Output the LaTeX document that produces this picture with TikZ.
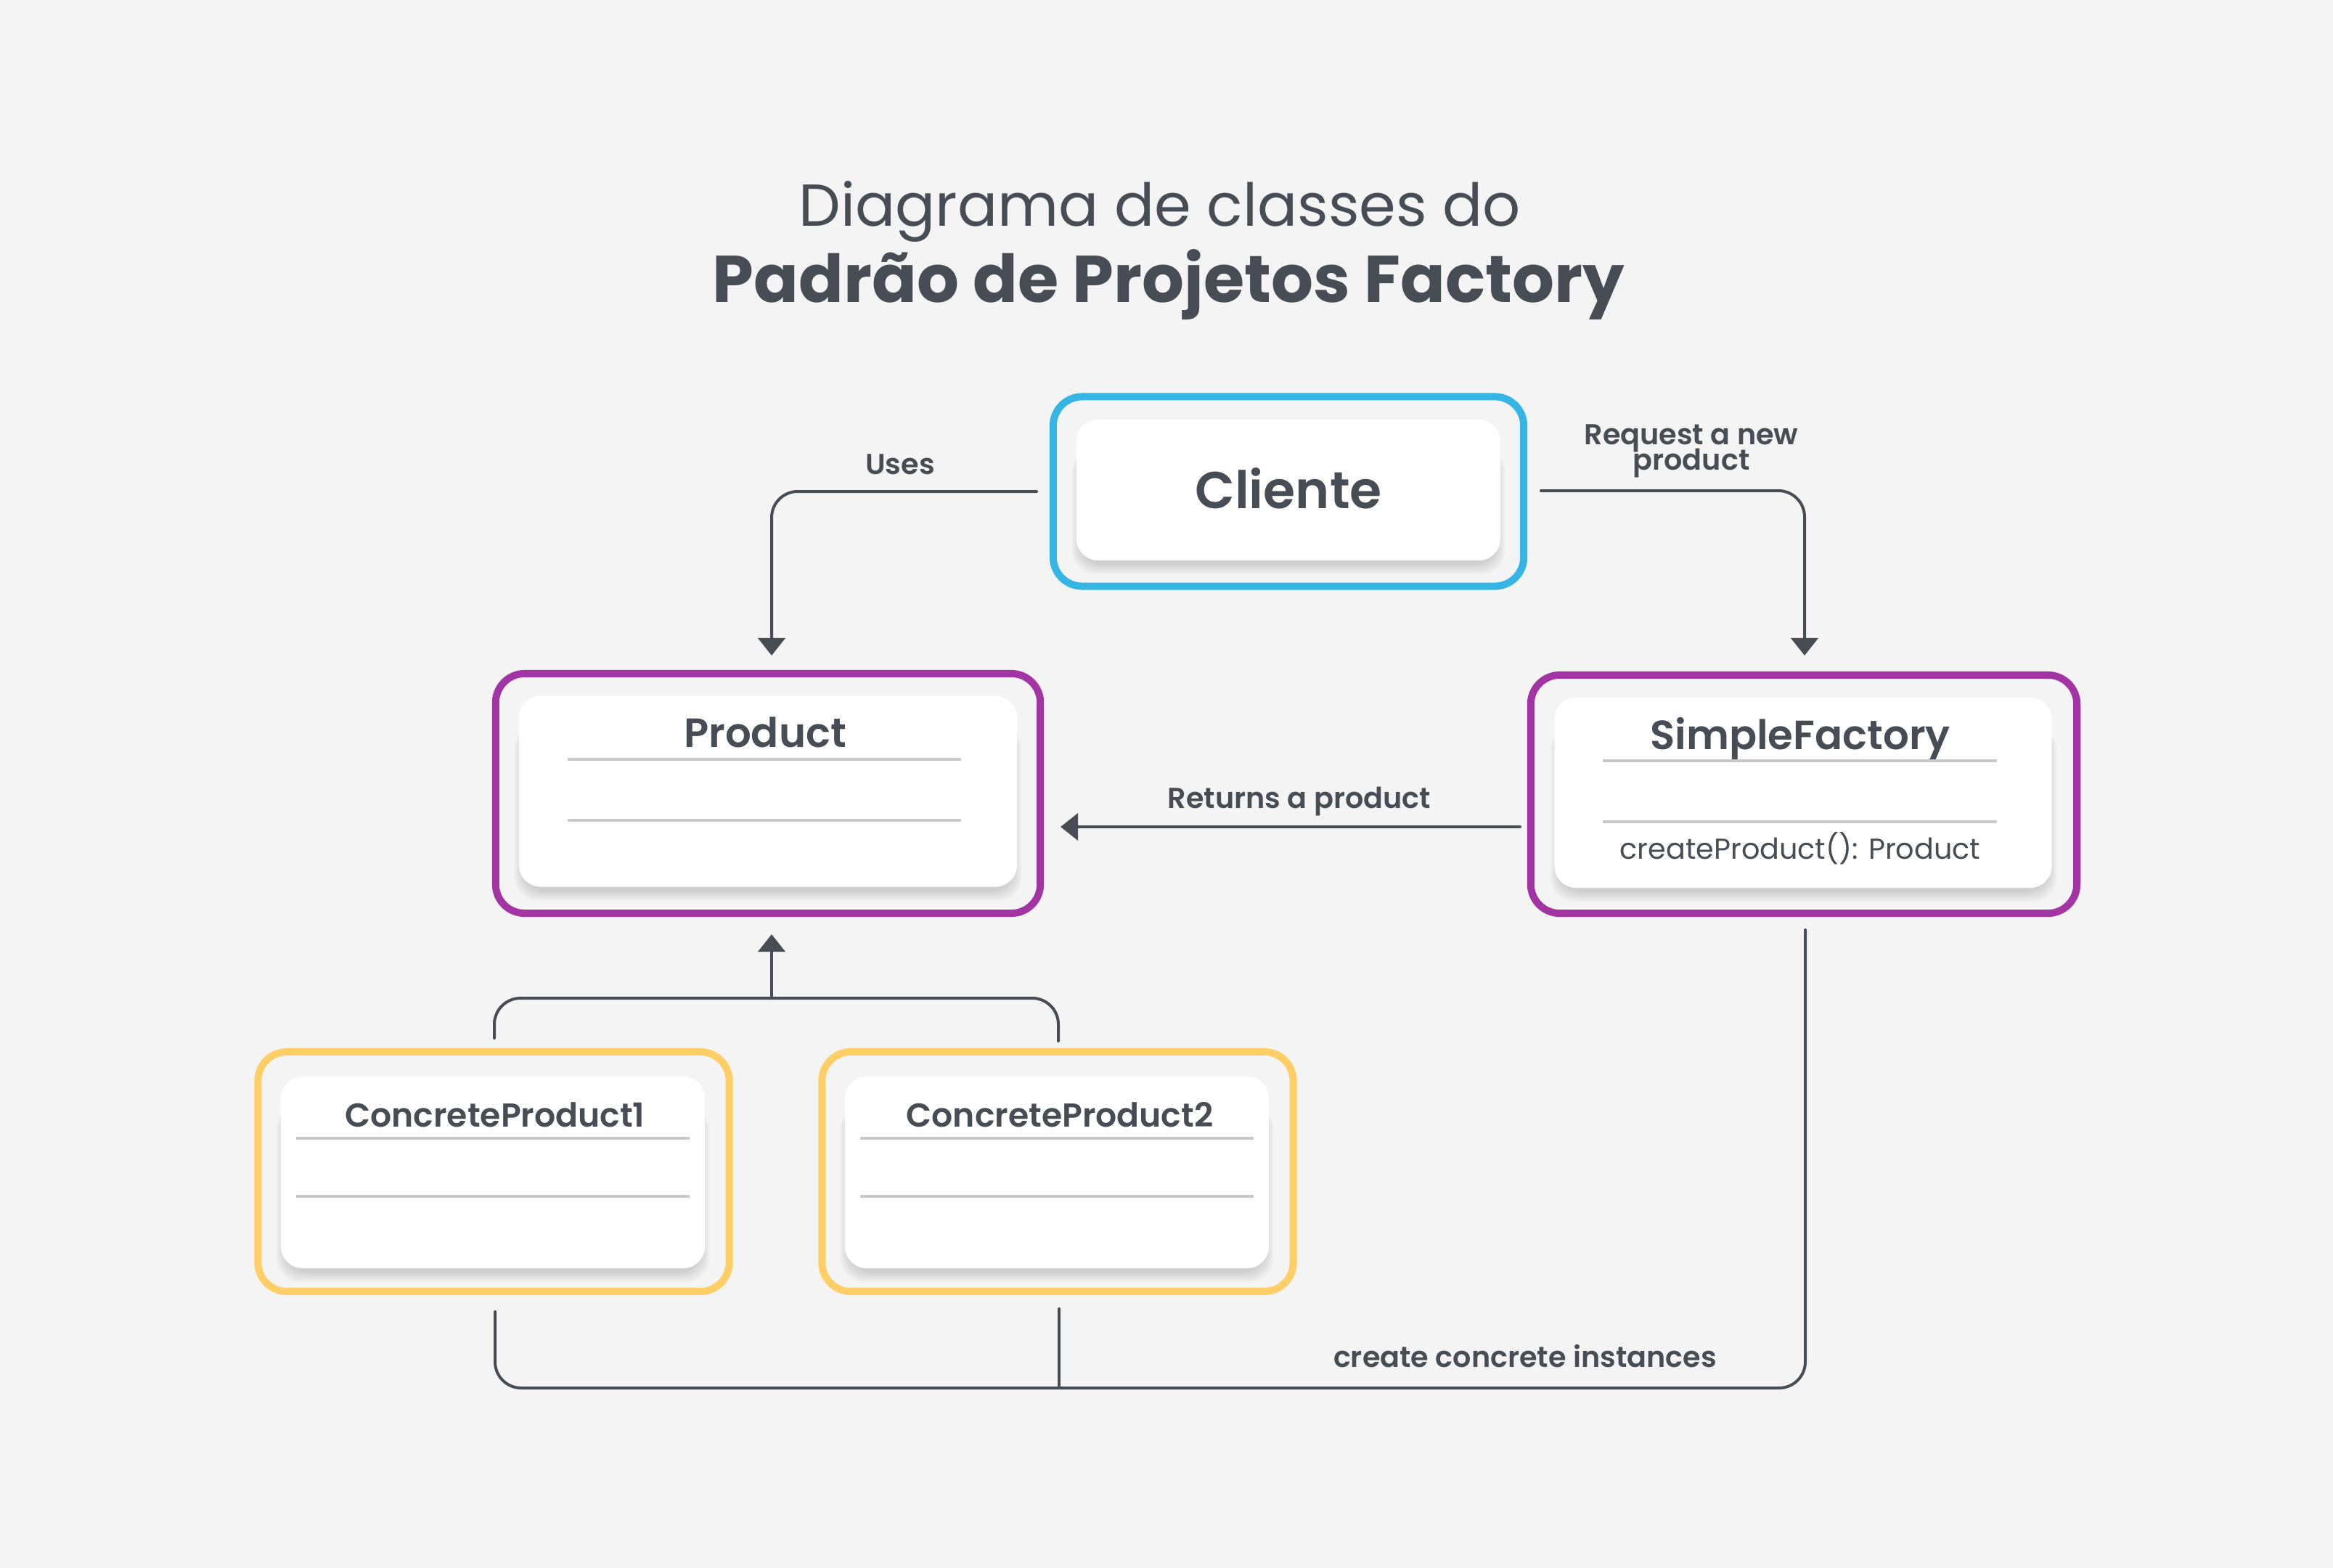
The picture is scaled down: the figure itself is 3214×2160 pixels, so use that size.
\documentclass[tikz,border=0pt]{standalone}
\usepackage{fontspec}
\setmainfont{Poppins}
\newfontfamily\popsb{Poppins SemiBold}
\usetikzlibrary{arrows.meta}
\definecolor{bg}{HTML}{F4F4F4}
\definecolor{ink}{HTML}{464D55}
\definecolor{cyanb}{HTML}{35B5E4}
\definecolor{purpb}{HTML}{A334A3}
\definecolor{yelb}{HTML}{FFCE66}
\definecolor{sepc}{HTML}{C9C9C9}
% soft shadow below a card: #1,#2 = top-left, #3,#4 = bottom-right (pixels)
\newcommand\softshadow[4]{%
  \foreach \k in {1,...,6}{%
    \fill[black, opacity=0.022, rounded corners=0.32cm]
      ({#1+6-2*\k},{#2+40}) rectangle ({#3-6+2*\k},{#4+4+2.5*\k});
  }%
}
\begin{document}
\begin{tikzpicture}[x=0.01cm,y=-0.01cm,
  frame/.style={draw=#1, line width=0.1cm, rounded corners=0.4cm, rectangle, inner sep=0pt},
  card/.style={fill=white, rounded corners=0.3cm, rectangle, inner sep=0pt},
  sepline/.style={draw=sepc, line width=0.04cm},
  conn/.style={draw=ink, line width=0.04cm, rounded corners=0.36cm, line cap=round},
  tip/.style={-{Triangle[width=0.37cm,length=0.24cm]}},
  ttl/.style={anchor=base, inner sep=0pt, text=ink},
  lbl/.style={anchor=base, inner sep=0pt, text=ink, font=\popsb\fontsize{11.3}{10}\selectfont}
]
% background
\fill[bg] (0,0) rectangle (3214,2160);
\useasboundingbox (0,0) rectangle (3214,2160);

% title
\node[ttl, font=\fontsize{23.2}{28}\selectfont] (title1) at (1598,311) {Diagrama de classes do};
\node[ttl, font=\bfseries\fontsize{25.9}{30}\selectfont] (title2) at (1610,416) {Padrão de Projetos Factory};

% ---------- Cliente ----------
\node[frame=cyanb, minimum width=6.48cm, minimum height=2.61cm] (clienteframe) at (1775,677) {};
\softshadow{1483}{578}{2067}{772}
\node[card, minimum width=5.84cm, minimum height=1.94cm] (cliente) at (1775,675) {};
\node[ttl, font=\popsb\fontsize{20.3}{24}\selectfont] (clientetxt) at (1775,700) {Cliente};

% ---------- Product ----------
\node[frame=purpb, minimum width=7.50cm, minimum height=3.30cm] (productframe) at (1058,1093) {};
\softshadow{715}{959}{1401}{1222}
\node[card, minimum width=6.86cm, minimum height=2.63cm] (product) at (1058,1090) {};
\node[ttl, font=\popsb\fontsize{16}{20}\selectfont] (producttxt) at (1054,1029) {Product};
\draw[sepline] (782,1046) -- (1324,1046);
\draw[sepline] (782,1130) -- (1324,1130);

% ---------- SimpleFactory ----------
\node[frame=purpb, minimum width=7.52cm, minimum height=3.28cm] (factoryframe) at (2485,1094) {};
\softshadow{2142}{961}{2827}{1223}
\node[card, minimum width=6.85cm, minimum height=2.62cm] (factory) at (2484,1092) {};
\node[ttl, font=\popsb\fontsize{16}{20}\selectfont] (factorytxt) at (2480,1032) {SimpleFactory};
\draw[sepline] (2208,1048) -- (2751,1048);
\draw[sepline] (2208,1132) -- (2751,1132);
\node[ttl, font=\fontsize{11.3}{14}\selectfont] (factorymeth) at (2480,1183) {createProduct(): Product};

% ---------- ConcreteProduct1 ----------
\node[frame=yelb, minimum width=6.49cm, minimum height=3.30cm] (cp1frame) at (680,1614) {};
\softshadow{387}{1483}{971}{1747}
\node[card, minimum width=5.84cm, minimum height=2.64cm] (cp1) at (679,1615) {};
\node[ttl, font=\popsb\fontsize{13}{16}\selectfont] (cp1txt) at (682,1552) {ConcreteProduct1};
\draw[sepline] (408,1568) -- (950,1568);
\draw[sepline] (408,1648) -- (950,1648);

% ---------- ConcreteProduct2 ----------
\node[frame=yelb, minimum width=6.49cm, minimum height=3.30cm] (cp2frame) at (1457,1614) {};
\softshadow{1164}{1483}{1748}{1747}
\node[card, minimum width=5.84cm, minimum height=2.64cm] (cp2) at (1456,1615) {};
\node[ttl, font=\popsb\fontsize{13}{16}\selectfont] (cp2txt) at (1460,1552) {ConcreteProduct2};
\draw[sepline] (1185,1568) -- (1727,1568);
\draw[sepline] (1185,1648) -- (1727,1648);

% ---------- connector end points ----------
\coordinate (usesA) at (1428,677);
\coordinate (usesB) at (1063,677);
\coordinate (usesC) at (1063,903);
\coordinate (reqA) at (2123,676);
\coordinate (reqB) at (2486,676);
\coordinate (reqC) at (2486,903);
\coordinate (retA) at (2094,1139);
\coordinate (retB) at (1461,1139);
\coordinate (inhL) at (681,1430);
\coordinate (inhLc) at (681,1375);
\coordinate (inhRc) at (1458,1375);
\coordinate (inhR) at (1458,1434);
\coordinate (inhM) at (1063,1375);
\coordinate (inhTip) at (1063,1287);
\coordinate (crA) at (2487,1281);
\coordinate (crB) at (2487,1912);
\coordinate (crC) at (682,1912);
\coordinate (crD) at (682,1807);
\coordinate (crM) at (1459,1803);
\coordinate (crMb) at (1459,1912);

% ---------- connectors ----------
\draw[conn, tip] (usesA) -- (usesB) -- (usesC);
\draw[conn, tip] (reqA) -- (reqB) -- (reqC);
\draw[conn, tip] (retA) -- (retB);
\draw[conn] (inhL) -- (inhLc) -- (inhRc) -- (inhR);
\draw[conn, tip] (inhM) -- (inhTip);
\draw[conn] (crA) -- (crB) -- (crC) -- (crD);
\draw[conn] (crM) -- (crMb);

% ---------- labels ----------
\node[lbl] (useslbl) at (1240,653) {Uses};
\node[lbl] (reqlbl1) at (2330,612) {Request a new};
\node[lbl] (reqlbl2) at (2330,647) {product};
\node[lbl] (retlbl) at (1790,1113) {Returns a product};
\node[lbl] (crlbl) at (2101,1883) {create concrete instances};
\end{tikzpicture}
\end{document}
